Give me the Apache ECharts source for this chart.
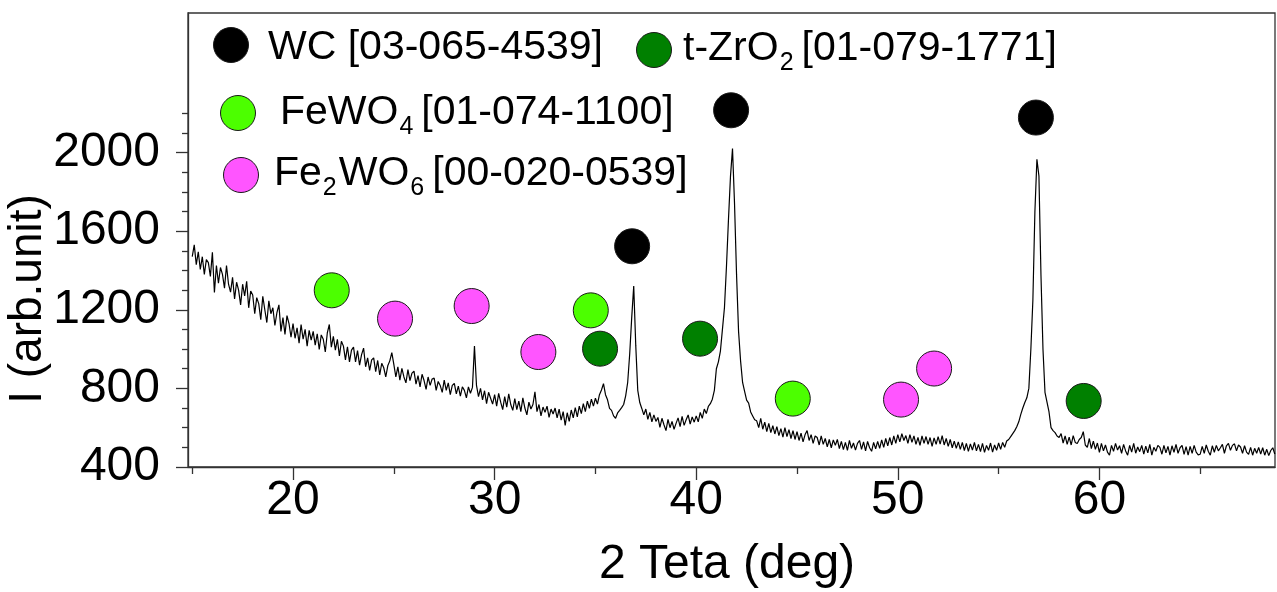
<!DOCTYPE html>
<html>
<head>
<meta charset="utf-8">
<script src="https://cdn.jsdelivr.net/npm/echarts@6/dist/echarts.min.js"></script>
<style>
  html, body { margin: 0; padding: 0; background: #fff; }
  #chart { width: 1277px; height: 592px; }
</style>
</head>
<body>
<div id="chart"></div>
<script>
// XRD scan: 2θ starts at 15.0° and advances 0.1° per reading
const scanStart = 15.0;
const scanStep = 0.1;
const intensity = [
  1470,1530,1430,1495,1405,1470,1380,1455,1440,1370,
  1492,1288,1425,1335,1415,1380,1310,1425,1330,1290,
  1365,1255,1340,1300,1225,1330,1270,1345,1210,1295,
  1275,1180,1262,1230,1150,1268,1200,1135,1245,1180,
  1210,1120,1185,1225,1090,1160,1075,1170,1130,1060,
  1130,1055,1108,1030,1125,1050,1100,1015,1095,1045,
  1090,1020,1078,998,1072,1050,985,1082,1125,1010,
  1065,995,1050,965,1040,1015,945,1012,935,995,
  1010,935,992,918,972,1005,910,955,892,945,
  955,885,942,868,928,905,858,915,940,982,
  922,858,910,842,902,858,828,895,840,878,
  888,822,865,808,872,840,795,858,815,848,
  852,790,835,815,780,842,790,828,768,815,
  825,772,812,760,808,790,752,808,775,805,
  1015,815,758,800,742,788,722,780,750,720,
  768,710,775,730,692,758,705,772,718,688,
  748,692,735,682,752,700,665,730,695,718,
  782,682,718,660,705,678,710,652,695,670,
  700,650,695,638,682,612,676,632,690,650,
  702,655,710,672,722,682,735,698,745,710,
  750,720,768,792,824,768,742,698,688,660,
  648,675,688,702,718,762,830,975,1160,1321,
  1020,790,728,698,665,695,642,678,630,665,
  632,652,602,648,615,585,642,600,632,592,
  622,650,605,658,612,640,665,618,655,628,
  660,630,678,648,695,672,708,722,745,790,
  900,935,990,1100,1210,1420,1660,1880,2020,1740,
  1380,1090,940,830,785,740,725,680,660,640,
  635,600,648,592,628,580,622,575,610,568,
  605,560,595,552,600,555,590,545,585,540,
  580,535,572,528,565,585,535,565,520,558,
  550,512,558,515,545,502,540,498,538,510,
  540,494,530,488,525,485,535,495,522,486,
  520,535,490,528,482,530,498,480,525,492,
  530,495,538,500,545,508,550,512,558,520,
  565,528,570,535,560,520,565,525,558,515,
  550,510,558,520,555,515,550,505,548,515,
  555,516,560,512,545,505,540,498,532,495,
  528,490,525,484,520,480,518,486,525,482,
  515,478,520,474,510,485,522,476,512,485,
  522,490,525,500,532,540,555,570,585,605,
  630,668,700,728,752,800,1000,1250,1700,1966,
  1880,1380,1000,780,730,680,600,585,575,558,
  550,570,522,558,515,552,512,560,525,520,
  540,550,580,512,500,545,494,532,490,522,
  474,520,482,512,476,460,510,480,520,486,
  508,470,515,482,460,510,476,520,470,502,
  478,510,465,506,472,515,460,500,480,510,
  500,465,510,472,505,460,508,475,515,470,
  498,510,464,504,460,505,470,510,476,462,
  465,505,470,512,480,460,508,475,510,482,
  498,515,470,508,520,485,510,518,482,512,
  502,470,508,476,464,500,460,495,470,500,
  466,498,460,490,458,484,498,466
];

// Axis ticks
const xMajorTicks = [20, 30, 40, 50, 60];
const xMinorTicks = [15, 25, 35, 45, 55, 65];
const yMajorTicks = [400, 800, 1200, 1600, 2000];
const yMinorTicks = [500, 600, 700, 900, 1000, 1100, 1300, 1400, 1500, 1700, 1800, 1900, 2100, 2200];

// Phase reflection markers [2θ, intensity]
const wcPeaks     = [[36.82, 1523], [41.73, 2215], [56.85, 2178]];
const zro2Peaks   = [[35.23, 1002], [40.19, 1053], [59.22, 736]];
const fewo4Peaks  = [[21.92, 1299], [34.77, 1197], [44.79, 748]];
const fe2wo6Peaks = [[25.06, 1155], [28.86, 1219], [32.17, 985], [50.16, 743], [51.80, 901]];

// Phase names and their PDF card numbers (second item: 1 = subscript)
const phaseWC     = [['WC [03-065-4539]', 0]];
const phaseZrO2   = [['t-ZrO', 0], ['2', 1], ['[01-079-1771]', 0]];
const phaseFeWO4  = [['FeWO', 0], ['4', 1], ['[01-074-1100]', 0]];
const phaseFe2WO6 = [['Fe', 0], ['2', 1], ['WO', 0], ['6', 1], ['[00-020-0539]', 0]];

const COLORS = { wc: '#000000', zro2: '#008000', fewo4: '#4cff00', fe2wo6: '#ff55ff' };
const FONT_FAMILY = '"Liberation Sans", Arial, Helvetica, sans-serif';

const scan = intensity.map((v, i) => [+(scanStart + i * scanStep).toFixed(2), v]);

const chart = echarts.init(document.getElementById('chart'), null, { renderer: 'canvas' });

// text measuring for the legend rows with subscripts
const measureCtx = document.createElement('canvas').getContext('2d');
function textWidth(str, font) { measureCtx.font = font; return measureCtx.measureText(str).width; }

const mainSize = 41, subSize = 25;
function legendEntry(color, cx, cy, x, y, parts) {
  const els = [{
    type: 'circle', shape: { cx: cx, cy: cy, r: 17.5 },
    style: { fill: color, stroke: '#1a1a1a', lineWidth: 1 }, z: 10
  }];
  let px = x;
  parts.forEach((p, i) => {
    const isSub = p[1] === 1;
    const size = isSub ? subSize : mainSize;
    const font = size + 'px ' + FONT_FAMILY;
    const next = parts[i + 1];
    els.push({
      type: 'text', x: px, y: isSub ? y + 14 : y, z: 10,
      style: { text: p[0], font: font, fill: '#000', textAlign: 'left', textVerticalAlign: 'middle', align: 'left', verticalAlign: 'middle' }
    });
    let gap = 1;
    if (isSub) gap = (next && next[0].charAt(0) === '[') ? 8 : 2;
    px += textWidth(p[0], font) + gap;
  });
  return els;
}

const graphics = [].concat(
  legendEntry(COLORS.wc, 231, 45, 268, 48, phaseWC),
  legendEntry(COLORS.zro2, 654, 50, 683, 49, phaseZrO2),
  legendEntry(COLORS.fewo4, 238, 113, 280, 113, phaseFeWO4),
  legendEntry(COLORS.fe2wo6, 241, 175, 274, 174, phaseFe2WO6),
  [
    {
      type: 'text', x: 28.5, y: 299, rotation: Math.PI / 2,
      style: { text: 'I (arb.unit)', font: '46px ' + FONT_FAMILY, fill: '#000',
               textAlign: 'center', textVerticalAlign: 'middle', align: 'center', verticalAlign: 'middle' }
    },
    {
      type: 'text', x: 727, y: 565,
      style: { text: '2 Teta (deg)', font: '48px ' + FONT_FAMILY, fill: '#000',
               textAlign: 'center', textVerticalAlign: 'middle', align: 'center', verticalAlign: 'middle' }
    }
  ]
);

const axisColor = '#333';
const labelStyle = { color: '#000', fontSize: 48, fontFamily: FONT_FAMILY, formatter: v => String(v) };

function markerSeries(name, data, color) {
  return {
    name: name, type: 'scatter', data: data, symbol: 'circle', symbolSize: 35,
    itemStyle: { color: color, borderColor: '#1a1a1a', borderWidth: 1, opacity: 1 },
    z: 5, silent: true, animation: false
  };
}

chart.setOption({
  backgroundColor: '#fff',
  animation: false,
  grid: {
    left: 188, right: 2, top: 13, bottom: 125,
    show: true, borderColor: axisColor, borderWidth: 1.3, backgroundColor: 'transparent',
    outerBoundsMode: 'none', containLabel: false
  },
  xAxis: [
    {
      type: 'value', min: 14.79, max: 68.71, position: 'bottom',
      axisLine: { show: true, onZero: false, lineStyle: { color: axisColor, width: 1.3 } },
      axisTick: { show: true, inside: false, length: 13, customValues: xMajorTicks, lineStyle: { color: axisColor, width: 1.3 } },
      axisLabel: Object.assign({ show: true, margin: 10, customValues: xMajorTicks }, labelStyle),
      splitLine: { show: false }
    },
    {
      type: 'value', min: 14.79, max: 68.71, position: 'bottom',
      axisLine: { show: false },
      axisTick: { show: true, inside: false, length: 7, customValues: xMinorTicks, lineStyle: { color: axisColor, width: 1.3 } },
      axisLabel: { show: false },
      splitLine: { show: false }
    }
  ],
  yAxis: [
    {
      type: 'value', min: 400, max: 2710, position: 'left',
      axisLine: { show: true, onZero: false, lineStyle: { color: axisColor, width: 1.3 } },
      axisTick: { show: true, inside: false, length: 12, customValues: yMajorTicks, lineStyle: { color: axisColor, width: 1.3 } },
      axisLabel: Object.assign({ show: true, margin: 28, customValues: yMajorTicks }, labelStyle),
      splitLine: { show: false }
    },
    {
      type: 'value', min: 400, max: 2710, position: 'left',
      axisLine: { show: false },
      axisTick: { show: true, inside: false, length: 6, customValues: yMinorTicks, lineStyle: { color: axisColor, width: 1.3 } },
      axisLabel: { show: false },
      splitLine: { show: false }
    }
  ],
  series: [
    {
      name: 'scan', type: 'line', data: scan, xAxisIndex: 0, yAxisIndex: 0,
      showSymbol: false, symbol: 'none', smooth: false,
      lineStyle: { color: '#000', width: 1.2 }, z: 2, silent: true
    },
    markerSeries('WC', wcPeaks, COLORS.wc),
    markerSeries('t-ZrO2', zro2Peaks, COLORS.zro2),
    markerSeries('FeWO4', fewo4Peaks, COLORS.fewo4),
    markerSeries('Fe2WO6', fe2wo6Peaks, COLORS.fe2wo6)
  ],
  graphic: { elements: graphics }
});
</script>
</body>
</html>
